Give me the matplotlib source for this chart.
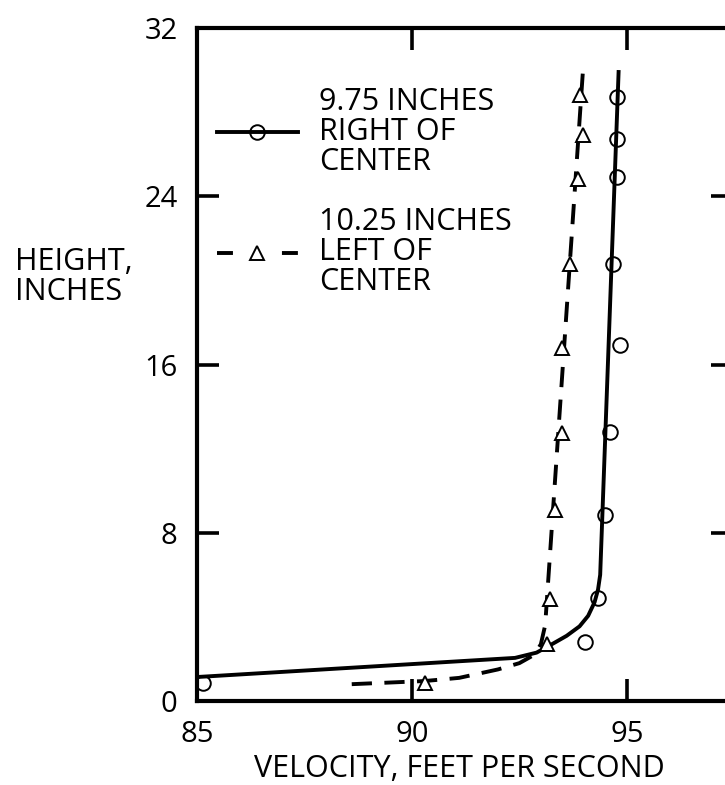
import matplotlib
matplotlib.use("Agg")
import matplotlib.pyplot as plt
from matplotlib.lines import Line2D

plt.rcParams['font.family'] = ['Open Sans', 'DejaVu Sans']

# fitted curves
right_line_x = [85.0, 92.4, 92.9, 93.3, 93.6, 93.9, 94.1, 94.25, 94.33, 94.38, 94.81]
right_line_y = [1.14, 2.05, 2.3, 2.75, 3.1, 3.55, 4.05, 4.7, 5.3, 6.0, 30.0]
left_line_x = [88.6, 90.3, 91.1, 92.0, 92.5, 92.85, 93.0, 93.1, 93.98]
left_line_y = [0.8, 0.95, 1.1, 1.5, 1.8, 2.2, 2.7, 3.6, 30.0]

# measured points
right_pts_x = [85.15, 94.02, 94.33, 94.5, 94.6, 94.84, 94.68, 94.77, 94.77, 94.77]
right_pts_y = [0.85, 2.8, 4.9, 8.85, 12.8, 16.95, 20.8, 24.9, 26.7, 28.7]
left_pts_x = [90.3, 93.14, 93.21, 93.33, 93.49, 93.49, 93.67, 93.86, 93.98, 93.91]
left_pts_y = [0.85, 2.7, 4.85, 9.1, 12.75, 16.8, 20.8, 24.8, 26.9, 28.8]

x_ticks = [85, 90, 95]
y_ticks = [0, 8, 16, 24, 32]

fig = plt.figure(figsize=(7.25, 7.85), dpi=100)
ax = fig.add_axes([197 / 725, 84 / 785, 536 / 725, 673 / 785])

lw = 2.8
ax.plot(right_line_x, right_line_y, color='black', lw=lw, solid_capstyle='butt')
ax.plot(left_line_x, left_line_y, color='black', lw=lw, dashes=(5.2, 3.2))
ax.plot(right_pts_x, right_pts_y, ls='none', marker='o', ms=10.5,
        mfc='none', mec='black', mew=1.4, clip_on=False)
ax.plot(left_pts_x, left_pts_y, ls='none', marker='^', ms=9.5,
        mfc='white', mec='black', mew=1.4)

ax.set_xlim(85, 97.47)
ax.set_ylim(0, 32)
ax.set_xticks(x_ticks)
ax.set_yticks(y_ticks)
ax.tick_params(direction='in', length=16, width=2.6, labelsize=21, pad=14,
               top=True, right=True, colors='black')
for s in ax.spines.values():
    s.set_linewidth(3.0)

ax.set_xlabel('VELOCITY, FEET PER SECOND', fontsize=22)
ax.xaxis.set_label_coords(0.489, -0.079)
fig.text(15 / 725, 1 - 277 / 785, 'HEIGHT,\nINCHES', fontsize=22,
         ha='left', va='center', linespacing=1.0)

h1 = Line2D([], [], color='black', lw=lw, marker='o', ms=10.5,
            mfc='none', mec='black', mew=1.4)
h2 = Line2D([], [], color='black', lw=lw, dashes=(4.1, 12.6), marker='^', ms=9.5,
            mfc='white', mec='black', mew=1.4)
leg = ax.legend([h1, h2], ['9.75 INCHES\nRIGHT OF\nCENTER', '10.25 INCHES\nLEFT OF\nCENTER'],
                loc='upper left', bbox_to_anchor=(0.037, 0.913), frameon=False,
                fontsize=22, handlelength=2.65, handletextpad=0.7, borderpad=0,
                borderaxespad=0, labelspacing=1.0, numpoints=1)
for t in leg.get_texts():
    t.set_linespacing(1.0)

fig.savefig('out.png', dpi=100)
